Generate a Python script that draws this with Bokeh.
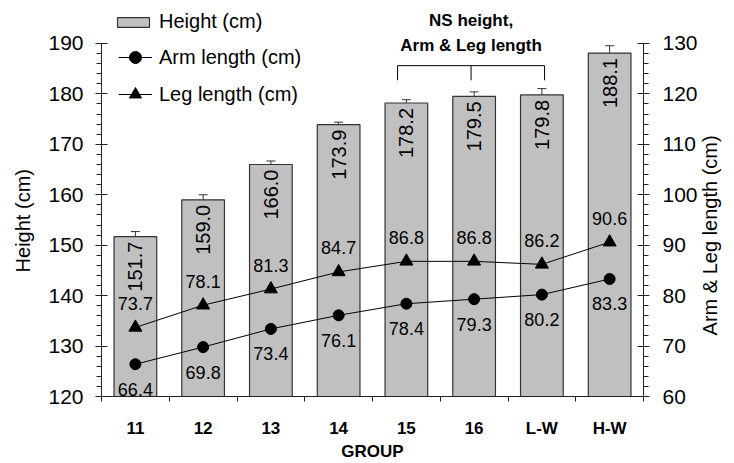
from bokeh.plotting import figure
from bokeh.models import (Range1d, LinearAxis, FixedTicker, ColumnDataSource, Whisker, TeeHead,
                          Legend, LegendItem, Label)
from bokeh.core.properties import value
from bokeh.embed import file_html
from bokeh.resources import INLINE
import math

groups = ["11", "12", "13", "14", "15", "16", "L-W", "H-W"]
height = [151.7, 159.0, 166.0, 173.9, 178.2, 179.5, 179.8, 188.1]
height_err = [1.0, 1.0, 0.7, 0.5, 0.65, 0.9, 1.25, 1.45]
arm = [66.4, 69.8, 73.4, 76.1, 78.4, 79.3, 80.2, 83.3]
leg = [73.7, 78.1, 81.3, 84.7, 86.8, 86.8, 86.2, 90.6]
left_ticks = [120, 130, 140, 150, 160, 170, 180, 190]
right_ticks = [60, 70, 80, 90, 100, 110, 120, 130]

FONT = "Liberation Sans"
AX = "#222222"
NB = "\u00a0"

xs = list(range(len(groups)))
src = ColumnDataSource(dict(
    x=xs, height=height, upper=[h + e for h, e in zip(height, height_err)],
    hlab=[f"{v:.1f}" for v in height],
    arm=arm, leg=leg,
    alab=[f"{v:.1f}" for v in arm], llab=[f"{v:.1f}" for v in leg],
))

p = figure(width=734, height=463, x_range=Range1d(-0.5, len(groups) - 0.5),
           y_range=Range1d(120, 198.52), min_border_left=101, min_border_right=91,
           min_border_top=0, min_border_bottom=67, toolbar_location=None,
           output_backend="svg", outline_line_color=None)
p.extra_y_ranges = {"limb": Range1d(60, 138.52)}
p.xgrid.visible = False
p.ygrid.visible = False

# bars
bars = p.vbar(x="x", top="height", bottom=120, width=0.63, source=src,
              fill_color="#C0C0C0", line_color="#333333", line_width=1.2)
wh = Whisker(source=src, base="x", upper="upper", lower="height", lower_head=None,
             upper_head=TeeHead(size=9, line_color="#333333", line_width=1),
             line_color="#333333", line_width=1)
p.add_layout(wh)
p.text(x="x", y="height", text="hlab", source=src, angle=math.pi / 2,
       text_align="right", text_baseline="middle", y_offset=5,
       text_font=value(FONT), text_font_size="20px", text_color="black")

# lines
leg_line = p.line(x="x", y="leg", source=src, y_range_name="limb", line_color="black", line_width=1)
leg_pts = p.scatter(x="x", y="leg", source=src, y_range_name="limb", marker="triangle",
                    size=13, fill_color="black", line_color="black")
arm_line = p.line(x="x", y="arm", source=src, y_range_name="limb", line_color="black", line_width=1)
arm_pts = p.scatter(x="x", y="arm", source=src, y_range_name="limb", marker="circle",
                    size=11, fill_color="black", line_color="black")
p.text(x="x", y="leg", text="llab", source=src, y_range_name="limb", text_align="center",
       text_baseline="middle", y_offset=-24, text_font=value(FONT), text_font_size="18px",
       text_color="black")
p.text(x="x", y="arm", text="alab", source=src, y_range_name="limb", text_align="center",
       text_baseline="middle", y_offset=25, text_font=value(FONT), text_font_size="18px",
       text_color="black")

# axes
xa = p.xaxis[0]
xa.ticker = FixedTicker(ticks=xs, minor_ticks=[i - 0.5 for i in range(len(groups) + 1)])
xa.major_label_overrides = {i: g for i, g in enumerate(groups)}
xa.major_tick_out = 0
xa.major_tick_in = 0
xa.minor_tick_out = 5
xa.minor_tick_in = 0
xa.minor_tick_line_color = AX
xa.axis_line_color = AX
xa.major_label_text_font = FONT
xa.major_label_text_font_style = "bold"
xa.major_label_text_font_size = "17px"
xa.major_label_text_color = "black"
xa.major_label_standoff = 17
xa.axis_label = "GROUP"
xa.axis_label_text_font = FONT
xa.axis_label_text_font_style = "bold"
xa.axis_label_text_font_size = "17px"
xa.axis_label_text_color = "black"
xa.axis_label_standoff = 1

def style_y(ax):
    ax.major_tick_out = 6
    ax.major_tick_in = 6
    ax.minor_tick_out = 5
    ax.minor_tick_in = 0
    ax.axis_line_color = AX
    ax.major_tick_line_color = AX
    ax.minor_tick_line_color = AX
    ax.major_label_text_font = FONT
    ax.major_label_text_font_size = "21px"
    ax.major_label_text_color = "black"
    ax.axis_label_text_font = FONT
    ax.axis_label_text_font_size = "20px"
    ax.axis_label_text_font_style = "normal"
    ax.axis_label_text_color = "black"

ya = p.yaxis[0]
ya.ticker = FixedTicker(ticks=left_ticks, minor_ticks=list(range(left_ticks[0], left_ticks[-1] + 1, 2)))
ya.bounds = (left_ticks[0], left_ticks[-1])
style_y(ya)
ya.major_label_standoff = 12
ya.axis_label = "Height (cm)" + NB * 8
ya.axis_label_standoff = 11

ra = LinearAxis(y_range_name="limb",
                ticker=FixedTicker(ticks=right_ticks, minor_ticks=list(range(right_ticks[0], right_ticks[-1] + 1, 2))),
                bounds=(right_ticks[0], right_ticks[-1]))
style_y(ra)
ra.major_label_standoff = 13
ra.axis_label_standoff = 9
ra.axis_label_orientation = math.pi / 2
ra.axis_label_align = "start"
ra.axis_label = NB * 11 + "Arm & Leg length (cm)"
p.add_layout(ra, "right")

# bracket annotation (NS)
i15, ilw = groups.index("15"), groups.index("L-W")
bl, br = i15 - 0.13, ilw + 0.04
bm = (bl + br) / 2
ytop, ybot = 185.6, 182.7
p.line(x=[bl, bl, br, br], y=[ybot, ytop, ytop, ybot], line_color="black", line_width=1)
p.line(x=[bm, bm], y=[ytop, ybot], line_color="black", line_width=1)
for txt, yy in (("NS height,", 194.6), ("Arm & Leg length", 189.6)):
    p.add_layout(Label(x=bm, y=yy, text=txt, text_align="center", text_baseline="middle",
                       text_font=FONT, text_font_size="17px", text_font_style="bold",
                       text_color="black"))

# legends
lg1 = Legend(items=[LegendItem(label="Height (cm)", renderers=[bars])], location=(12, 363),
             glyph_width=40, glyph_height=12, label_height=12, label_standoff=6,
             padding=0, margin=0, border_line_color=None, background_fill_alpha=0,
             label_text_font=FONT, label_text_font_size="20px", label_text_color="black")
lg2 = Legend(items=[LegendItem(label="Arm length (cm)", renderers=[arm_line, arm_pts]),
                    LegendItem(label="Leg length (cm)", renderers=[leg_line, leg_pts])],
             location=(17, 287), glyph_width=34, glyph_height=30, label_height=30,
             spacing=7, label_standoff=7, padding=0, margin=0, border_line_color=None,
             background_fill_alpha=0, label_text_font=FONT, label_text_font_size="20px",
             label_text_color="black")
p.add_layout(lg1)
p.add_layout(lg2)

open("out.html", "w").write(file_html(p, INLINE))
